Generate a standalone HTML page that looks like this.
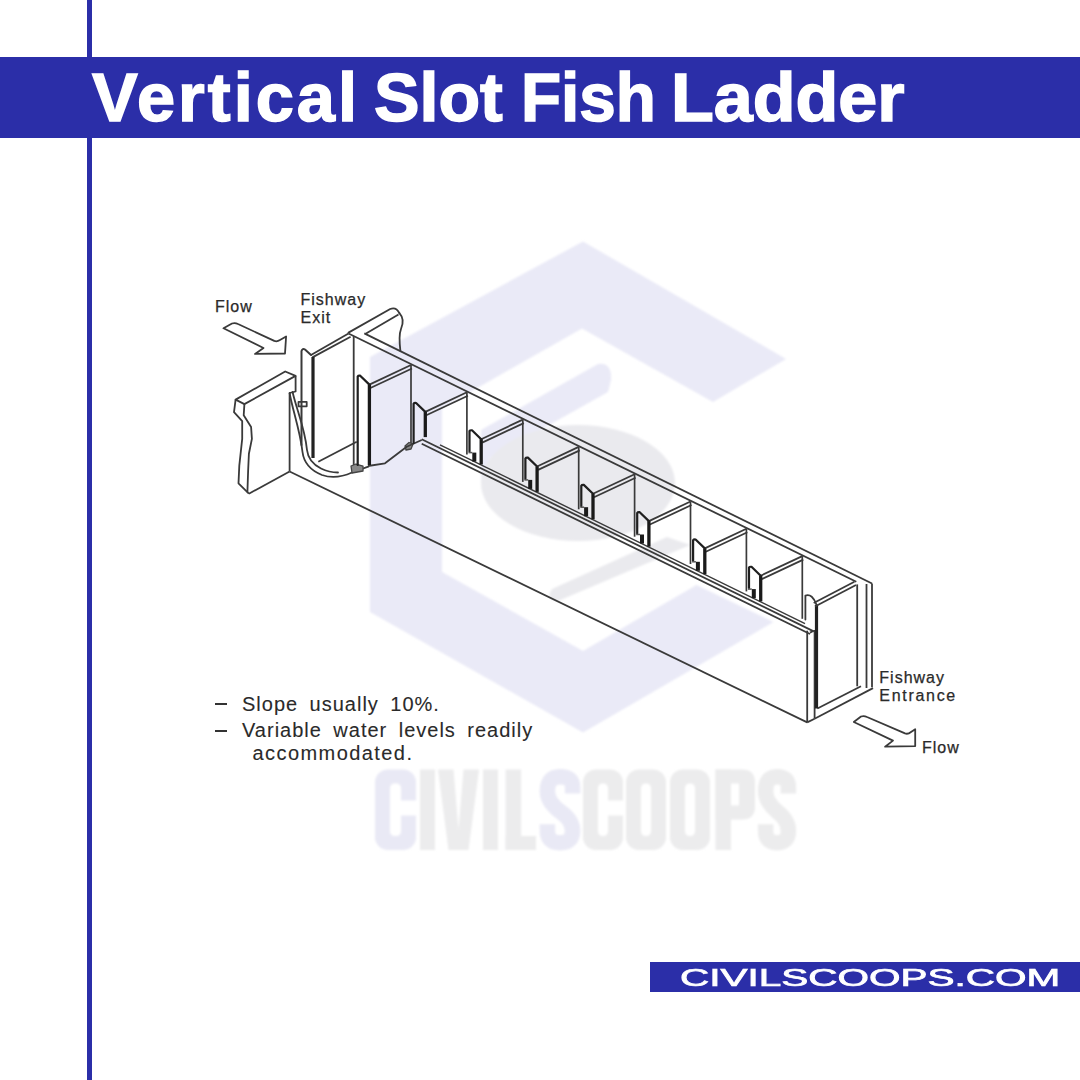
<!DOCTYPE html>
<html><head><meta charset="utf-8">
<style>
html,body{margin:0;padding:0;background:#fff;}
body{width:1080px;height:1080px;position:relative;overflow:hidden;font-family:"Liberation Sans",sans-serif;}
.vline{position:absolute;left:87px;top:0;width:5px;height:1080px;background:#2B2EA8;}
.banner{position:absolute;left:0;top:57px;width:1080px;height:81px;background:#2B2EA8;}
.title{position:absolute;left:92px;top:57px;height:81px;line-height:81px;color:#fff;font-weight:bold;font-size:68px;white-space:nowrap;transform-origin:0 50%;-webkit-text-stroke:1.5px #fff;}
.logo{position:absolute;left:650px;top:962px;width:430px;height:30px;background:#2B2EA8;}
.logotxt{position:absolute;left:680px;top:963px;height:30px;line-height:30px;color:#fff;font-size:23px;white-space:nowrap;transform-origin:0 50%;transform:scaleX(1.76);-webkit-text-stroke:0.7px #fff;}
.lbl{position:absolute;white-space:nowrap;color:#2a2a2a;font-size:16px;line-height:16px;letter-spacing:1px;-webkit-text-stroke:0.25px #2a2a2a;}
.note{position:absolute;white-space:nowrap;color:#2a2a2a;font-size:20px;line-height:20px;letter-spacing:1.0px;word-spacing:4.9px;-webkit-text-stroke:0.1px #2a2a2a;}
.dash{position:absolute;width:12px;height:2.6px;background:#333;}
svg{position:absolute;left:0;top:0;}
</style></head>
<body>
<div class="vline"></div>
<svg width="1080" height="1080" viewBox="0 0 1080 1080">
<defs><filter id="bl" x="-10%" y="-10%" width="120%" height="120%"><feGaussianBlur stdDeviation="1.2"/></filter></defs>
<g fill="#EAEAF7" filter="url(#bl)">
<path d="M583,241.5 L786,359 L713,402 L582,328.5 L442,408 L442,572 L583,651 L696.5,585 L773.5,622 L583,732.6 L370,612 L370,357 Z"/>
<path d="M598,364 Q612,362 611,380 L608,392 L490,458 L481,483 L481,430 Z"/>
<ellipse cx="578" cy="483" rx="97" ry="58" fill="#EAEAEE"/>
<path d="M552,589 L667,537 L690,545 L558,601 Q545,600 552,589 Z" fill="#EAEAEE"/>
</g>

<g filter="url(#bl)"><rect x="375.0" y="769.5" width="41.0" height="80.5" rx="13" fill="#E9E9F5"/>
<rect x="390.0" y="783.5" width="11.0" height="52.5" rx="4.5" fill="#fff"/>
<rect x="400.0" y="800.5" width="17" height="15" fill="#fff"/>
<rect x="420.0" y="769.5" width="15.0" height="80.5" rx="0" fill="#ECECED"/>
<polygon points="438,769.5 453.5,769.5 458.5,829.5 463.5,769.5 479,769.5 468.5,850 448.5,850" fill="#ECECED"/>
<rect x="483.0" y="769.5" width="15.0" height="80.5" rx="0" fill="#ECECED"/>
<rect x="505.6" y="769.5" width="15.5" height="80.5" rx="0" fill="#ECECED"/>
<rect x="505.6" y="836.0" width="30.4" height="14.0" rx="0" fill="#ECECED"/>
<path d="M572.6,793.6 L572.6,787.2 Q572.6,776.7 560.0,776.7 Q547.4,776.7 547.4,791.2 Q547.4,801.7 560.0,811.4 Q572.6,820.2 572.6,830.7 Q572.6,842.8 560.0,842.8 Q547.4,842.8 547.4,830.7 L547.4,824.2" fill="none" stroke="#E9E9F5" stroke-width="15.5" stroke-linecap="butt"/>
<rect x="583.0" y="769.5" width="40.0" height="80.5" rx="13" fill="#ECECED"/>
<rect x="598.0" y="783.5" width="10.0" height="52.5" rx="4.5" fill="#fff"/>
<rect x="607.0" y="800.5" width="17" height="15" fill="#fff"/>
<rect x="626.0" y="769.5" width="40.0" height="80.5" rx="13" fill="#ECECED"/>
<rect x="641.0" y="783.5" width="10.0" height="52.5" rx="4.5" fill="#fff"/>
<rect x="670.0" y="769.5" width="40.0" height="80.5" rx="13" fill="#ECECED"/>
<rect x="685.0" y="783.5" width="10.0" height="52.5" rx="4.5" fill="#fff"/>
<rect x="715.5" y="769.5" width="15.5" height="80.5" rx="0" fill="#ECECED"/>
<path d="M715.5,769.5 H742 Q755,769.5 755,782.5 V806.5 Q755,819.5 742,819.5 H715.5 Z M731.0,783.5 V805.5 H739 V783.5 Z" fill="#ECECED" fill-rule="evenodd"/>
<path d="M788.4,793.6 L788.4,787.2 Q788.4,776.7 777.0,776.7 Q765.6,776.7 765.6,791.2 Q765.6,801.7 777.0,811.4 Q788.4,820.2 788.4,830.7 Q788.4,842.8 777.0,842.8 Q765.6,842.8 765.6,830.7 L765.6,824.2" fill="none" stroke="#ECECED" stroke-width="15.5" stroke-linecap="butt"/>
</g></svg>
<svg width="1080" height="1080" viewBox="0 0 1080 1080">
<line x1="364.3" y1="333.4" x2="872.0" y2="583.5" stroke="#3a3a3a" stroke-width="1.8"/>
<line x1="348.5" y1="333.5" x2="856.3" y2="581.7" stroke="#3a3a3a" stroke-width="1.8"/>
<path d="M348.5,332.6 L390.2,309 Q396,306.5 399.4,313.1" fill="none" stroke="#3a3a3a" stroke-width="1.8" stroke-linejoin="round" stroke-linecap="round"/>
<line x1="365.2" y1="334.0" x2="398.5" y2="314.5" stroke="#3a3a3a" stroke-width="1.8"/>
<path d="M399.4,313.1 C403,317 404,322 401,329 C399,334 399,339 400.4,351" fill="none" stroke="#3a3a3a" stroke-width="1.8" stroke-linejoin="round" stroke-linecap="round"/>
<line x1="348.5" y1="333.5" x2="311.0" y2="355.0" stroke="#3a3a3a" stroke-width="1.8"/>
<line x1="350.6" y1="336.7" x2="312.4" y2="357.4" stroke="#3a3a3a" stroke-width="1.8"/>
<path d="M301.5,445 L301.5,351 Q302.5,348 305,349.5 L311,355" fill="none" stroke="#3a3a3a" stroke-width="2" stroke-linejoin="round" stroke-linecap="round"/>
<line x1="313.0" y1="357.0" x2="313.0" y2="458.0" stroke="#222" stroke-width="3.2"/>
<line x1="353.7" y1="336.0" x2="353.7" y2="465.0" stroke="#3a3a3a" stroke-width="1.8"/>
<line x1="318.3" y1="461.7" x2="356.7" y2="441.7" stroke="#3a3a3a" stroke-width="1.8"/>
<polygon points="235.6,399.6 285.2,371.5 295.6,375.9 244.4,404.1" fill="none" stroke="#3a3a3a" stroke-width="1.8" stroke-linejoin="round"/>
<polyline points="244.4,404.1 243.7,415.2 251.1,427.0 251.9,438.9 248.9,453.7 248.1,471.5 247.4,492.2" fill="none" stroke="#3a3a3a" stroke-width="1.8" stroke-linejoin="round"/>
<polyline points="235.6,399.6 234.0,412.2 242.2,421.1 242.2,438.9 239.3,465.6 238.5,483.3 248.9,493.7" fill="none" stroke="#3a3a3a" stroke-width="1.8" stroke-linejoin="round"/>
<line x1="248.9" y1="493.7" x2="289.6" y2="471.5" stroke="#3a3a3a" stroke-width="1.8"/>
<line x1="289.6" y1="393.0" x2="289.6" y2="471.5" stroke="#3a3a3a" stroke-width="1.8"/>
<polyline points="295.6,375.9 295.6,391.5 289.6,393.0" fill="none" stroke="#3a3a3a" stroke-width="1.8" stroke-linejoin="round"/>
<line x1="289.6" y1="471.5" x2="807.2" y2="722.4" stroke="#3a3a3a" stroke-width="1.8"/>
<path d="M289.6,393 C292,408 300,430 302.5,452 C304,464 312,471 322,475 C332,478.5 342,477 352,472.5 L368.3,466.7" fill="none" stroke="#3a3a3a" stroke-width="1.8" stroke-linejoin="round" stroke-linecap="round"/>
<path d="M292.6,392 C296,408 305,428 307,450 C308,459 314,465 321,468.5 C327,471.5 333,472.5 338,472.5" fill="none" stroke="#3a3a3a" stroke-width="1.8" stroke-linejoin="round" stroke-linecap="round"/>
<path d="M351,466 L356,464 L363,466 L363,471 L352,473 Z" fill="#888" stroke="#444" stroke-width="1.3" stroke-linejoin="round" stroke-linecap="round"/>
<path d="M405,446 L409,442.5 L413,444 L411,449 L406,450 Z" fill="#888" stroke="#444" stroke-width="1.3" stroke-linejoin="round" stroke-linecap="round"/>
<polyline points="368.0,466.0 385.0,463.3 406.7,446.7 421.7,440.0" fill="none" stroke="#3a3a3a" stroke-width="1.8" stroke-linejoin="round"/>
<polygon points="298.5,401.9 306.7,401.9 306.7,406.3 298.5,406.3" fill="none" stroke="#3a3a3a" stroke-width="1.8" stroke-linejoin="round"/>
<line x1="421.7" y1="439.3" x2="813.7" y2="631.4" stroke="#3a3a3a" stroke-width="1.8"/>
<line x1="421.7" y1="443.7" x2="810.0" y2="634.0" stroke="#3a3a3a" stroke-width="1.8"/>
<line x1="440.0" y1="444.8" x2="805.0" y2="623.6" stroke="#3a3a3a" stroke-width="1.4"/>
<line x1="807.2" y1="630.7" x2="807.2" y2="722.4" stroke="#3a3a3a" stroke-width="1.8"/>
<line x1="814.6" y1="630.0" x2="814.6" y2="718.7" stroke="#3a3a3a" stroke-width="1.8"/>
<line x1="807.2" y1="722.4" x2="814.6" y2="718.7" stroke="#3a3a3a" stroke-width="1.8"/>
<line x1="810.0" y1="632.6" x2="813.7" y2="630.7" stroke="#3a3a3a" stroke-width="1.8"/>
<line x1="814.6" y1="718.7" x2="873.0" y2="688.1" stroke="#3a3a3a" stroke-width="1.8"/>
<line x1="817.4" y1="708.5" x2="861.0" y2="686.3" stroke="#3a3a3a" stroke-width="1.8"/>
<line x1="857.2" y1="584.4" x2="857.2" y2="686.3" stroke="#3a3a3a" stroke-width="1.8"/>
<line x1="866.5" y1="584.0" x2="866.5" y2="688.0" stroke="#3a3a3a" stroke-width="1.8"/>
<line x1="872.0" y1="583.5" x2="872.0" y2="687.2" stroke="#3a3a3a" stroke-width="1.8"/>
<line x1="816.5" y1="604.8" x2="816.5" y2="708.5" stroke="#222" stroke-width="3.2"/>
<line x1="854.4" y1="581.7" x2="813.7" y2="603.0" stroke="#3a3a3a" stroke-width="1.8"/>
<line x1="856.0" y1="585.0" x2="815.0" y2="606.5" stroke="#3a3a3a" stroke-width="1.8"/>
<path d="M805.4,619.6 L805.4,595.6 C810,593.6 814,597.6 816.5,604.8" fill="none" stroke="#3a3a3a" stroke-width="1.8" stroke-linejoin="round" stroke-linecap="round"/>
<line x1="411.0" y1="365.0" x2="411.0" y2="443.0" stroke="#3a3a3a" stroke-width="1.7"/>
<line x1="411.0" y1="365.0" x2="369.4" y2="384.6" stroke="#3a3a3a" stroke-width="1.8"/>
<line x1="412.0" y1="368.5" x2="370.4" y2="388.0" stroke="#3a3a3a" stroke-width="1.8"/>
<line x1="369.4" y1="384.6" x2="369.4" y2="465.0" stroke="#1a1a1a" stroke-width="3.3"/>
<path d="M357.7,465.0 L357.7,376.5 Q358.2,375.5 360.2,375.7 L369.4,384.6" fill="none" stroke="#1f1f1f" stroke-width="2.2" stroke-linejoin="round" stroke-linecap="round"/>
<line x1="466.9" y1="392.3" x2="466.9" y2="454.5" stroke="#3a3a3a" stroke-width="1.7"/>
<line x1="466.9" y1="392.3" x2="425.3" y2="411.9" stroke="#3a3a3a" stroke-width="1.8"/>
<line x1="467.9" y1="395.8" x2="426.3" y2="415.3" stroke="#3a3a3a" stroke-width="1.8"/>
<line x1="425.3" y1="411.9" x2="425.3" y2="437.1" stroke="#1a1a1a" stroke-width="3.3"/>
<path d="M413.6,443.0 L413.6,403.8 Q414.1,402.8 416.1,403.0 L425.3,411.9" fill="none" stroke="#1f1f1f" stroke-width="2.2" stroke-linejoin="round" stroke-linecap="round"/>
<line x1="522.8" y1="419.6" x2="522.8" y2="481.9" stroke="#3a3a3a" stroke-width="1.7"/>
<line x1="522.8" y1="419.6" x2="481.2" y2="439.2" stroke="#3a3a3a" stroke-width="1.8"/>
<line x1="523.8" y1="423.1" x2="482.2" y2="442.6" stroke="#3a3a3a" stroke-width="1.8"/>
<line x1="481.2" y1="439.2" x2="481.2" y2="464.5" stroke="#1a1a1a" stroke-width="3.3"/>
<path d="M469.5,451.6 L469.5,431.1 Q470.0,430.1 472.0,430.3 L481.2,439.2" fill="none" stroke="#1f1f1f" stroke-width="2.2" stroke-linejoin="round" stroke-linecap="round"/>
<rect x="472.3" y="452.6" width="4" height="9" fill="#1a1a1a"/>
<line x1="468.5" y1="452.6" x2="472.3" y2="452.6" stroke="#555" stroke-width="1.5"/>
<line x1="578.7" y1="446.9" x2="578.7" y2="509.3" stroke="#3a3a3a" stroke-width="1.7"/>
<line x1="578.7" y1="446.9" x2="537.1" y2="466.5" stroke="#3a3a3a" stroke-width="1.8"/>
<line x1="579.7" y1="450.4" x2="538.1" y2="469.9" stroke="#3a3a3a" stroke-width="1.8"/>
<line x1="537.1" y1="466.5" x2="537.1" y2="491.9" stroke="#1a1a1a" stroke-width="3.3"/>
<path d="M525.4,478.9 L525.4,458.4 Q525.9,457.4 527.9,457.6 L537.1,466.5" fill="none" stroke="#1f1f1f" stroke-width="2.2" stroke-linejoin="round" stroke-linecap="round"/>
<rect x="528.2" y="479.9" width="4" height="9" fill="#1a1a1a"/>
<line x1="524.4" y1="479.9" x2="528.2" y2="479.9" stroke="#555" stroke-width="1.5"/>
<line x1="634.6" y1="474.2" x2="634.6" y2="536.7" stroke="#3a3a3a" stroke-width="1.7"/>
<line x1="634.6" y1="474.2" x2="593.0" y2="493.8" stroke="#3a3a3a" stroke-width="1.8"/>
<line x1="635.6" y1="477.7" x2="594.0" y2="497.2" stroke="#3a3a3a" stroke-width="1.8"/>
<line x1="593.0" y1="493.8" x2="593.0" y2="519.3" stroke="#1a1a1a" stroke-width="3.3"/>
<path d="M581.3,506.2 L581.3,485.7 Q581.8,484.7 583.8,484.9 L593.0,493.8" fill="none" stroke="#1f1f1f" stroke-width="2.2" stroke-linejoin="round" stroke-linecap="round"/>
<rect x="584.1" y="507.2" width="4" height="9" fill="#1a1a1a"/>
<line x1="580.3" y1="507.2" x2="584.1" y2="507.2" stroke="#555" stroke-width="1.5"/>
<line x1="690.5" y1="501.5" x2="690.5" y2="564.0" stroke="#3a3a3a" stroke-width="1.7"/>
<line x1="690.5" y1="501.5" x2="648.9" y2="521.1" stroke="#3a3a3a" stroke-width="1.8"/>
<line x1="691.5" y1="505.0" x2="649.9" y2="524.5" stroke="#3a3a3a" stroke-width="1.8"/>
<line x1="648.9" y1="521.1" x2="648.9" y2="546.7" stroke="#1a1a1a" stroke-width="3.3"/>
<path d="M637.2,533.5 L637.2,513.0 Q637.7,512.0 639.7,512.2 L648.9,521.1" fill="none" stroke="#1f1f1f" stroke-width="2.2" stroke-linejoin="round" stroke-linecap="round"/>
<rect x="640.0" y="534.5" width="4" height="9" fill="#1a1a1a"/>
<line x1="636.2" y1="534.5" x2="640.0" y2="534.5" stroke="#555" stroke-width="1.5"/>
<line x1="746.4" y1="528.8" x2="746.4" y2="591.4" stroke="#3a3a3a" stroke-width="1.7"/>
<line x1="746.4" y1="528.8" x2="704.8" y2="548.4" stroke="#3a3a3a" stroke-width="1.8"/>
<line x1="747.4" y1="532.3" x2="705.8" y2="551.8" stroke="#3a3a3a" stroke-width="1.8"/>
<line x1="704.8" y1="548.4" x2="704.8" y2="574.1" stroke="#1a1a1a" stroke-width="3.3"/>
<path d="M693.1,560.8 L693.1,540.3 Q693.6,539.3 695.6,539.5 L704.8,548.4" fill="none" stroke="#1f1f1f" stroke-width="2.2" stroke-linejoin="round" stroke-linecap="round"/>
<rect x="695.9" y="561.8" width="4" height="9" fill="#1a1a1a"/>
<line x1="692.1" y1="561.8" x2="695.9" y2="561.8" stroke="#555" stroke-width="1.5"/>
<line x1="802.3" y1="556.1" x2="802.3" y2="618.8" stroke="#3a3a3a" stroke-width="1.7"/>
<line x1="802.3" y1="556.1" x2="760.7" y2="575.7" stroke="#3a3a3a" stroke-width="1.8"/>
<line x1="803.3" y1="559.6" x2="761.7" y2="579.1" stroke="#3a3a3a" stroke-width="1.8"/>
<line x1="760.7" y1="575.7" x2="760.7" y2="601.4" stroke="#1a1a1a" stroke-width="3.3"/>
<path d="M749.0,588.1 L749.0,567.6 Q749.5,566.6 751.5,566.8 L760.7,575.7" fill="none" stroke="#1f1f1f" stroke-width="2.2" stroke-linejoin="round" stroke-linecap="round"/>
<rect x="751.8" y="589.1" width="4" height="9" fill="#1a1a1a"/>
<line x1="748.0" y1="589.1" x2="751.8" y2="589.1" stroke="#555" stroke-width="1.5"/>
<path d="M223.5,328.3 L232,323.5 Q235,322.5 238,324 L274.3,340.9 Q277,342 280,340 L286.1,336.5 L285,353.5 L255,353.9 L263.5,348 Z" fill="none" stroke="#3a3a3a" stroke-width="1.8" stroke-linejoin="round" stroke-linecap="round"/>
<path d="M853.8,722 L861,716.5 Q864,715.5 867,717 L905,733.4 Q908,734.5 911,732 L915.2,729.2 L915.2,746.1 L885.1,746.7 L893,740.6 Z" fill="none" stroke="#3a3a3a" stroke-width="1.8" stroke-linejoin="round" stroke-linecap="round"/>

</svg>
<div class="lbl" style="left:215px;top:298.5px;">Flow</div>
<div class="lbl" style="left:300.5px;top:291.5px;">Fishway</div>
<div class="lbl" style="left:300.5px;top:309.6px;">Exit</div>
<div class="lbl" style="left:879.3px;top:670.3px;">Fishway</div>
<div class="lbl" style="left:879.3px;top:688.2px;letter-spacing:1.7px;">Entrance</div>
<div class="lbl" style="left:922px;top:739.5px;">Flow</div>
<div class="dash" style="left:214.5px;top:702.5px;"></div>
<div class="dash" style="left:214.5px;top:729.5px;"></div>
<div class="note" style="left:242px;top:694px;">Slope usually 10%.</div>
<div class="note" style="left:242px;top:720px;">Variable water levels readily</div>
<div class="note" style="left:252.5px;top:742.6px;letter-spacing:1.43px;">accommodated.</div>
<div class="banner"></div>
<div class="title" style="left:92px;transform:scaleX(1.008);letter-spacing:3px">Vertical</div>
<div class="title" style="left:373.6px;transform:scaleX(1.003)">Slot</div>
<div class="title" style="left:521px;transform:scaleX(0.965)">Fish</div>
<div class="title" style="left:671.2px;transform:scaleX(1.03)">Ladder</div>
<div class="logo"></div>
<div class="logotxt">CIVILSCOOPS.COM</div>
</body></html>
